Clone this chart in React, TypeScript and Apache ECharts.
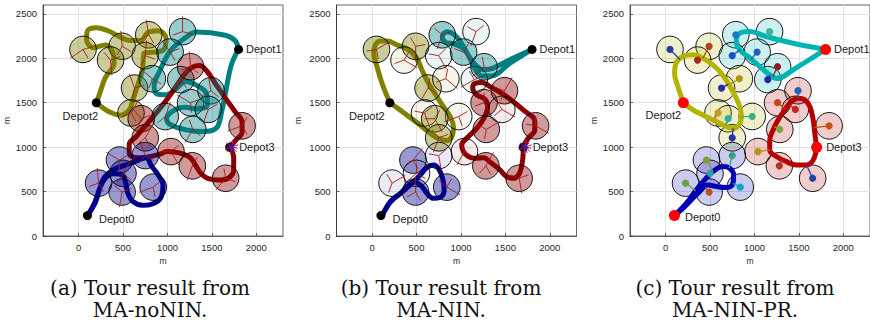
import React, { useEffect, useRef } from "react";
import * as echarts from "echarts";

// ---------- data ----------
const circleX = [50, 490, 360, 790, 750, 630, 590, 1170, 1030, 830, 1150, 1260, 1490, 1460, 975, 1285, 1260, 705, 750, 1040, 1280, 1655, 1840, 460, 750, 225, 500, 490, 840];
const circleY = [2100, 2135, 1980, 2265, 2030, 1665, 1385, 2300, 2070, 1770, 1760, 1500, 1635, 1425, 1345, 1200, 1905, 1320, 1105, 950, 790, 650, 1240, 855, 905, 595, 705, 495, 550];
const circleRadius = 150;

// tour group of each circle: 0 olive (Depot2), 1 teal (Depot1), 2 red (Depot3), 3 blue (Depot0)
const groupA = [0, 0, 0, 0, 0, 0, 0, 1, 1, 1, 1, 1, 1, 1, 1, 1, 2, 2, 2, 2, 2, 2, 2, 3, 3, 3, 3, 3, 3];
const groupBC = [0, 0, 0, 1, 1, 0, 0, 1, 1, 0, 1, 2, 2, 2, 0, 2, 1, 0, 0, 2, 2, 2, 2, 3, 3, 3, 3, 3, 3];
const visitedB = [1, 1, 0, 1, 0, 1, 0, 0, 1, 0, 0, 1, 1, 0, 0, 1, 1, 1, 1, 0, 1, 1, 1, 1, 0, 0, 0, 1, 1];

const depotNames = ["Depot0", "Depot1", "Depot2", "Depot3"];
const depotX = [100, 1800, 200, 1700];
const depotY = [230, 2100, 1500, 1000];

const xTicks = [0, 500, 1000, 1500, 2000];
const yTicks = [0, 500, 1000, 1500, 2000, 2500];

// tours, panel (a)
const oliveA = [[200, 1500], [240, 1610], [300, 1780], [400, 1950], [380, 2080], [300, 2150], [170, 2120], [90, 2210], [100, 2310], [200, 2345], [330, 2310], [450, 2250], [580, 2200], [700, 2200], [780, 2290], [900, 2310], [985, 2220], [960, 2100], [850, 2070], [740, 2060], [720, 1880], [670, 1710], [620, 1560], [570, 1420], [470, 1360], [340, 1400], [250, 1460], [200, 1500]];
const tealA = [[1800, 2100], [1760, 2200], [1650, 2260], [1330, 2295], [1200, 2230], [1030, 2080], [910, 1850], [850, 1700], [880, 1600], [990, 1590], [1100, 1660], [1200, 1740], [1320, 1700], [1440, 1600], [1450, 1480], [1330, 1430], [1200, 1450], [1080, 1420], [990, 1320], [1030, 1255], [1210, 1195], [1400, 1175], [1550, 1215], [1610, 1400], [1660, 1650], [1720, 1930], [1800, 2100]];
const redA = [[1700, 1000], [1770, 1080], [1840, 1170], [1840, 1280], [1760, 1400], [1660, 1540], [1550, 1700], [1440, 1860], [1360, 1920], [1280, 1900], [1200, 1830], [1100, 1690], [990, 1530], [870, 1380], [760, 1250], [650, 1120], [570, 1030], [570, 930], [660, 880], [780, 890], [900, 915], [1000, 950], [1080, 945], [1170, 925], [1260, 880], [1320, 790], [1380, 700], [1460, 645], [1580, 630], [1690, 655], [1745, 740], [1745, 880], [1700, 1000]];
const blueA = [[100, 230], [190, 380], [240, 540], [290, 660], [380, 740], [500, 790], [640, 840], [760, 880], [820, 790], [900, 680], [950, 570], [930, 440], [830, 360], [720, 345], [610, 390], [555, 480], [530, 600], [490, 690], [390, 700], [300, 650], [240, 540], [180, 370], [100, 230]];

// tours, panel (b)
const oliveB = [[200, 1500], [112, 1719], [56, 1907], [19, 2057], [37, 2151], [93, 2195], [168, 2195], [280, 2151], [411, 2095], [504, 2001], [561, 1869], [635, 1719], [729, 1569], [803, 1456], [878, 1344], [916, 1231], [897, 1119], [841, 1075], [740, 1100], [654, 1156], [540, 1250], [420, 1340], [300, 1430], [200, 1500]];
const tealB = [[1800, 2100], [1560, 1990], [1360, 1890], [1250, 1870], [1160, 1930], [1080, 2040], [1000, 2180], [920, 2270], [840, 2300], [790, 2240], [830, 2180], [930, 2160], [1040, 2100], [1110, 1980], [1170, 1860], [1240, 1800], [1330, 1800], [1560, 1950], [1800, 2100]];
const redB = [[1700, 1000], [1700, 931], [1682, 781], [1650, 690], [1588, 649], [1513, 668], [1439, 743], [1345, 818], [1252, 880], [1158, 875], [1084, 893], [1028, 950], [1009, 1025], [1065, 1100], [1177, 1212], [1260, 1330], [1300, 1456], [1270, 1540], [1177, 1588], [1132, 1663], [1158, 1719], [1233, 1727], [1327, 1682], [1513, 1569], [1700, 1419], [1831, 1290], [1830, 1190], [1756, 1100], [1700, 1000]];
const blueB = [[112, 225], [206, 387], [318, 480], [430, 574], [542, 687], [617, 770], [691, 800], [747, 760], [796, 640], [811, 518], [766, 435], [691, 424], [617, 480], [561, 556], [467, 612], [400, 560], [320, 480], [206, 380], [112, 225]];

// tours, panel (c)
const oliveC = [[200, 1500], [139, 1682], [101, 1832], [120, 1945], [195, 2020], [308, 2039], [420, 2001], [533, 1926], [627, 1832], [702, 1719], [777, 1588], [834, 1457], [853, 1344], [826, 1250], [759, 1213], [646, 1250], [533, 1306], [420, 1363], [308, 1419], [200, 1500]];
const cyanC = [[1800, 2100], [1585, 1964], [1435, 1870], [1322, 1795], [1247, 1776], [1172, 1813], [1059, 1907], [928, 2020], [834, 2095], [796, 2207], [834, 2283], [947, 2301], [1134, 2245], [1435, 2170], [1800, 2100]];
const redC = [[1700, 1000], [1679, 1156], [1661, 1306], [1623, 1457], [1567, 1532], [1491, 1551], [1416, 1513], [1341, 1419], [1266, 1306], [1210, 1194], [1172, 1081], [1172, 969], [1247, 894], [1360, 837], [1473, 800], [1585, 800], [1661, 856], [1700, 1000]];
const blueC = [[100, 230], [233, 368], [345, 518], [439, 631], [533, 725], [646, 781], [721, 762], [766, 687], [759, 593], [684, 545], [571, 556], [477, 575], [383, 500], [289, 406], [176, 293], [100, 230]];

// heading directions (degrees) drawn inside circles, panels (a) and (b)
const headA = [[215, 15, 300], [95, 240, 330], [275, 130, 20], [100, 210, 300], [85, 250, 340], [110, 260, 15], [60, 205, 300], [90, 345, 200], [125, 300, 20], [140, 250, 330], [60, 230, 305], [150, 275, 20], [100, 210, 320], [250, 30, 160], [70, 220, 300], [240, 320, 110], [95, 200, 320], [130, 250, 20], [60, 220, 300], [300, 180, 40], [250, 60, 330], [230, 100, 340], [200, 300, 60], [150, 270, 30], [110, 230, 330], [95, 200, 300], [60, 240, 320], [260, 140, 20], [200, 280, 40]];
const headB = [[30, 190, 280], [270, 120, 10], [330, 60, 200], [250, 20, 140], [300, 170, 45], [240, 80, 330], [290, 170, 40], [250, 40, 150], [310, 160, 60], [320, 200, 80], [210, 20, 120], [300, 90, 200], [60, 250, 160], [330, 120, 220], [200, 30, 290], [30, 260, 150], [220, 340, 100], [300, 60, 180], [250, 20, 130], [240, 330, 110], [60, 230, 300], [280, 20, 160], [330, 170, 90], [50, 220, 300], [280, 40, 170], [30, 250, 120], [220, 330, 90], [90, 300, 210], [330, 140, 60]];

// visiting colour of each circle, panel (c)
const visitColors = ["#2a3a9a", "#b5421a", "#a32a14", "#1f77c4", "#1c4fc4", "#2b2b9e", "#c79a1e", "#3bb391", "#1e5fc0", "#b38f12", "#1c2aa6", "#c2481a", "#2166b3", "#c0282a", "#3ab374", "#7ea63a", "#8e1a24", "#3aa6a6", "#22349c", "#b59114", "#b2361a", "#2244a0", "#c05416", "#7fa024", "#34a27e", "#6f9c46", "#2f9ca8", "#b0561a", "#12a2c6"];

const captionLine1 = ["(a) Tour result from", "(b) Tour result from", "(c) Tour result from"];
const captionLine2 = ["MA-noNIN.", "MA-NIN.", "MA-NIN-PR."];

// ---------- styling / layout ----------
const darkColors = ["#808000", "#008080", "#8b0000", "#00008b"];
const darkRGB = [[128, 128, 0], [0, 128, 128], [139, 0, 0], [0, 0, 139]];
const brightColors = ["#b4b400", "#00b4b4", "#b40000", "#0000b4"];
const brightRGB = [[180, 180, 0], [0, 180, 180], [180, 0, 0], [0, 0, 180]];
const gridLeft = [43, 336.5, 630];
const captionX = [150, 441, 735];
const yNameGap = [30, 34, 32];
const AXIS_FONT = "'Liberation Sans', Arial, sans-serif";

const rgba = (c: number[], a: number) => `rgba(${c[0]},${c[1]},${c[2]},${a})`;

function nearestOnPath(px: number, py: number, path: number[][]) {
  let best = [path[0][0], path[0][1]];
  let bd = Infinity;
  for (let k = 0; k < path.length - 1; k++) {
    const [x1, y1] = path[k];
    const [x2, y2] = path[k + 1];
    const dx = x2 - x1, dy = y2 - y1;
    const t = Math.max(0, Math.min(1, ((px - x1) * dx + (py - y1) * dy) / (dx * dx + dy * dy || 1)));
    const qx = x1 + t * dx, qy = y1 + t * dy;
    const d = (qx - px) ** 2 + (qy - py) ** 2;
    if (d < bd) { bd = d; best = [qx, qy]; }
  }
  return best;
}

function buildOption() {
  const tours = [[oliveA, tealA, redA, blueA], [oliveB, tealB, redB, blueB], [oliveC, cyanC, redC, blueC]];
  const series: any[] = [];
  const grids: any[] = [];
  const xAxes: any[] = [];
  const yAxes: any[] = [];
  const plain = (v: number) => String(v);

  for (let p = 0; p < 3; p++) {
    grids.push({ left: gridLeft[p], top: 5, width: 240, height: 231, show: true, borderColor: "#262626", borderWidth: 0.7, backgroundColor: "transparent" });
    xAxes.push({
      type: "value", gridIndex: p, min: -400, max: 2300,
      name: "m", nameLocation: "middle", nameGap: 19,
      nameTextStyle: { fontSize: 8.5, color: "#262626", fontFamily: AXIS_FONT },
      axisLine: { show: true, onZero: false, lineStyle: { color: "#262626", width: 0.7 } },
      axisTick: { show: true, inside: true, length: 3, customValues: xTicks, lineStyle: { color: "#262626", width: 0.7 } },
      axisLabel: { customValues: xTicks, formatter: plain, fontSize: 9.5, color: "#262626", fontFamily: AXIS_FONT, margin: 6 },
      splitLine: { show: true, lineStyle: { color: "#e2e2e2", width: 1 } },
    });
    yAxes.push({
      type: "value", gridIndex: p, min: 0, max: 2600,
      name: "m", nameLocation: "middle", nameGap: yNameGap[p], nameRotate: 90,
      nameTextStyle: { fontSize: 8.5, color: "#262626", fontFamily: AXIS_FONT },
      axisLine: { show: true, onZero: false, lineStyle: { color: "#262626", width: 0.7 } },
      axisTick: { show: true, inside: true, length: 3, customValues: yTicks, lineStyle: { color: "#262626", width: 0.7 } },
      axisLabel: { customValues: yTicks, formatter: plain, fontSize: 9.5, color: "#262626", fontFamily: AXIS_FONT, margin: 6 },
      splitLine: { show: true, lineStyle: { color: "#e2e2e2", width: 1 } },
    });

    const isC = p === 2;
    const groups = p === 0 ? groupA : groupBC;
    const lineColors = isC ? brightColors : darkColors;

    // tours
    tours[p].forEach((t, g) => {
      series.push({
        type: "line", xAxisIndex: p, yAxisIndex: p, data: t, smooth: 0.4, symbol: "none", silent: true,
        z: isC ? 4 : 2,
        lineStyle: { color: lineColors[g], width: 5, cap: "round", join: "round" },
      });
    });

    // circles
    const fills = circleX.map((_, i) => {
      const g = groups[i];
      if (p === 0) return rgba(darkRGB[g], 0.4);
      if (p === 1) return rgba(darkRGB[g], visitedB[i] ? 0.4 : 0.08);
      return rgba(brightRGB[g], 0.2);
    });
    series.push({
      type: "custom", xAxisIndex: p, yAxisIndex: p, z: 3, silent: true,
      data: circleX.map((x, i) => [x, circleY[i], i]),
      renderItem: (_params: any, api: any) => {
        const c = api.coord([api.value(0), api.value(1)]);
        const r = api.size([circleRadius, 0])[0];
        const i = api.value(2);
        return { type: "circle", shape: { cx: c[0], cy: c[1], r }, style: { fill: fills[i], stroke: "#000", lineWidth: 0.9 } };
      },
    });

    if (!isC) {
      const heads = p === 0 ? headA : headB;
      series.push({
        type: "custom", xAxisIndex: p, yAxisIndex: p, z: 5, silent: true,
        data: circleX.map((x, i) => [x, circleY[i], i]),
        renderItem: (_params: any, api: any) => {
          const c = api.coord([api.value(0), api.value(1)]);
          const r = api.size([circleRadius, 0])[0];
          const i = api.value(2);
          return {
            type: "group",
            children: heads[i].map((a: number, k: number) => {
              const L = r * (k === 0 ? 1.15 : 0.75);
              const rad = (a * Math.PI) / 180;
              return { type: "line", shape: { x1: c[0], y1: c[1], x2: c[0] + L * Math.cos(rad), y2: c[1] - L * Math.sin(rad) }, style: { stroke: "#a31c1c", lineWidth: 0.9 } };
            }),
          };
        },
      });
      // Depot3 star
      series.push({
        type: "custom", xAxisIndex: p, yAxisIndex: p, z: 7, silent: true,
        data: [[depotX[3], depotY[3]]],
        renderItem: (_params: any, api: any) => {
          const c = api.coord([api.value(0), api.value(1)]);
          const kids: any[] = [];
          [20, 80, 140, 200, 260, 320].forEach((a) => {
            const rad = (a * Math.PI) / 180;
            kids.push({ type: "line", shape: { x1: c[0] + 2, y1: c[1], x2: c[0] + 2 + 7 * Math.cos(rad), y2: c[1] - 7 * Math.sin(rad) }, style: { stroke: "#ff1010", lineWidth: 1 } });
          });
          [50, 110, 170, 230, 290, 350].forEach((a) => {
            const rad = (a * Math.PI) / 180;
            kids.push({ type: "line", shape: { x1: c[0] + 2, y1: c[1], x2: c[0] + 2 + 6 * Math.cos(rad), y2: c[1] - 6 * Math.sin(rad) }, style: { stroke: "#1a1aff", lineWidth: 1 } });
          });
          return { type: "group", children: kids };
        },
      });
    } else {
      // visiting segments and dots
      const segs = circleX.map((x, i) => {
        const q = nearestOnPath(x, circleY[i], tours[2][groups[i]]);
        return [x, circleY[i], q[0], q[1], i];
      });
      series.push({
        type: "custom", xAxisIndex: p, yAxisIndex: p, z: 5, silent: true,
        data: segs,
        renderItem: (_params: any, api: any) => {
          const c = api.coord([api.value(0), api.value(1)]);
          const q = api.coord([api.value(2), api.value(3)]);
          const i = api.value(4);
          return {
            type: "group",
            children: [
              { type: "line", shape: { x1: c[0], y1: c[1], x2: q[0], y2: q[1] }, style: { stroke: visitColors[i], lineWidth: 1.3 } },
              { type: "circle", shape: { cx: c[0], cy: c[1], r: 3.6 }, style: { fill: visitColors[i] } },
            ],
          };
        },
      });
    }

    // depots
    const labelOffsets = isC
      ? [{ position: "right", distance: 5, offset: [0, 1] }, { position: "right", distance: 3, offset: [0, 0] }, { position: "inside", offset: [-20, 12] }, { position: "right", distance: 4, offset: [0, 0] }]
      : [{ position: "right", distance: 7, offset: [0, 3] }, { position: "right", distance: 3, offset: [0, 0] }, { position: "inside", offset: [p === 0 ? -16 : -23, 13] }, { position: "right", distance: 5, offset: [0, 0] }];
    series.push({
      type: "scatter", xAxisIndex: p, yAxisIndex: p, z: 6, silent: true,
      symbol: "circle", symbolSize: isC ? 11 : 9,
      itemStyle: { color: isC ? "#ff0000" : "#000000", opacity: 1 },
      data: depotNames.map((n, i) => ({
        name: n, value: [depotX[i], depotY[i]],
        label: { show: true, formatter: n, fontSize: 11, color: "#1a1a1a", fontFamily: AXIS_FONT, ...labelOffsets[i] },
      })),
    });
  }

  const graphic: any[] = [];
  for (let p = 0; p < 3; p++) {
    [captionLine1[p], captionLine2[p]].forEach((t, k) => {
      graphic.push({
        type: "text", x: captionX[p], y: k === 0 ? 288 : 310, silent: true,
        style: { text: t, font: "20px 'DejaVu Serif', serif", fill: "#111", align: "center", verticalAlign: "middle", textAlign: "center", textVerticalAlign: "middle" },
      });
    });
  }

  return { animation: false, backgroundColor: "#ffffff", grid: grids, xAxis: xAxes, yAxis: yAxes, series, graphic };
}

export default function App() {
  const ref = useRef<HTMLDivElement>(null);
  useEffect(() => {
    if (!ref.current) return;
    const chart = echarts.init(ref.current, undefined, { renderer: "svg" });
    chart.setOption(buildOption() as any);
    return () => chart.dispose();
  }, []);
  return <div ref={ref} style={{ position: "absolute", left: 0, top: 0, width: 870, height: 330 }} />;
}
